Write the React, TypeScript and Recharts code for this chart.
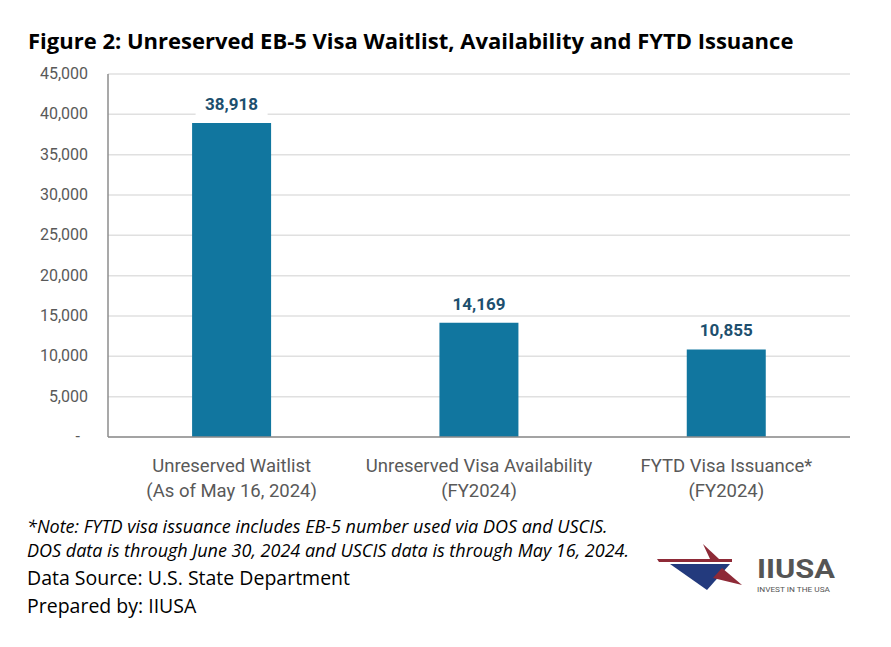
import React from 'react';
import { BarChart, Bar, XAxis, YAxis, CartesianGrid, LabelList } from 'recharts';

const categories = ['Unreserved Waitlist|(As of May 16, 2024)', 'Unreserved Visa Availability|(FY2024)', 'FYTD Visa Issuance*|(FY2024)'];
const values = [38918, 14169, 10855];
const yTicks = [0, 5000, 10000, 15000, 20000, 25000, 30000, 35000, 40000, 45000];

const data = categories.map((c, i) => ({ name: c, value: values[i] }));

const AXIS_FONT = 'Roboto, "Liberation Sans", sans-serif';
const TEXT_FONT = '"Open Sans", "Lato", sans-serif';

const fmt = (v: number) => (v === 0 ? '-' : v.toLocaleString('en-US'));

const YTick = (props: any) => {
  const { x, y, payload } = props;
  const v = payload.value;
  return (
    <text x={v === 0 ? x - 8 : x} y={y} dy={5} textAnchor="end" fill="#595959" fontSize={16} fontFamily={AXIS_FONT}>
      {fmt(v)}
    </text>
  );
};

const XTick = (props: any) => {
  const { x, y, payload } = props;
  const lines = String(payload.value).split('|');
  return (
    <g>
      {lines.map((l, i) => (
        <text key={i} x={x} y={y + 27 + i * 25} textAnchor="middle" fill="#595959" fontSize={18.5} fontFamily={AXIS_FONT}>
          {l}
        </text>
      ))}
    </g>
  );
};

const ValueLabel = (props: any) => {
  const { x, y, width, value } = props;
  const cx = x + width / 2;
  const txt = fmt(value);
  return (
    <g>
      <rect x={cx - 36} y={y - 30} width={72} height={22} fill="#ffffff" />
      <text x={cx} y={y - 13} textAnchor="middle" fill="#1d4f6e" fontSize={17} fontWeight="bold" fontFamily={AXIS_FONT}>
        {txt}
      </text>
    </g>
  );
};

const Logo = () => (
  <svg width={200} height={70} style={{ position: 'absolute', left: 639, top: 527 }}>
    <polygon points="56,9 72,24 63,24" fill="#8e2a37" />
    <polygon points="10,24 85,24 85,27 12,27" fill="#8e2a37" />
    <polygon points="23,29 83,29 60,55" fill="#233a7d" />
    <polygon points="75,33 95,50 66,43" fill="#8e2a37" />
    <text x={110} y={43} fontSize={25} fontWeight="bold" fill="#555555" fontFamily={AXIS_FONT} textLength={78} lengthAdjust="spacingAndGlyphs">IIUSA</text>
    <text x={110} y={57} fontSize={6.5} fill="#555555" fontFamily={AXIS_FONT} textLength={73} lengthAdjust="spacingAndGlyphs">INVEST IN THE USA</text>
  </svg>
);

export default function App() {
  return (
    <div style={{ position: 'relative', width: 875, height: 631, background: '#ffffff' }}>
      <div style={{ position: 'absolute', left: 20, top: 17, fontFamily: TEXT_FONT, fontWeight: 'bold', fontSize: 22, color: '#000', whiteSpace: 'nowrap' }}>
        Figure 2: Unreserved EB-5 Visa Waitlist, Availability and FYTD Issuance
      </div>
      <div style={{ position: 'absolute', left: 0, top: 0 }}>
        <BarChart width={875} height={520} data={data} margin={{ top: 66, right: 33, left: 0, bottom: 31 }} barCategoryGap="34%">
          <CartesianGrid vertical={false} stroke="#e0e0e0" strokeWidth={1.5} />
          <YAxis
            domain={[0, 45000]}
            ticks={yTicks}
            width={100}
            tickLine={false}
            axisLine={{ stroke: '#8c8c8c', strokeWidth: 1.5 }}
            tick={<YTick />}
            tickSize={0}
            tickMargin={20}
            interval={0}
          />
          <XAxis
            dataKey="name"
            height={60}
            tickLine={false}
            axisLine={{ stroke: '#8c8c8c', strokeWidth: 1.5 }}
            tick={<XTick />}
            interval={0}
          />
          <Bar dataKey="value" fill="#11769f" isAnimationActive={false}>
            <LabelList dataKey="value" content={<ValueLabel />} />
          </Bar>
        </BarChart>
      </div>
      <div style={{ position: 'absolute', left: 19, top: 506, fontFamily: TEXT_FONT, fontStyle: 'italic', fontSize: 18, color: '#000', lineHeight: '24px', whiteSpace: 'nowrap' }}>
        <div>*Note: FYTD visa issuance includes EB-5 number used via DOS and USCIS.</div>
        <div>DOS data is through June 30, 2024 and USCIS data is through May 16, 2024.</div>
      </div>
      <div style={{ position: 'absolute', left: 19, top: 556, fontFamily: TEXT_FONT, fontSize: 19.5, color: '#000', lineHeight: '28px', whiteSpace: 'nowrap' }}>
        <div>Data Source: U.S. State Department</div>
        <div>Prepared by: IIUSA</div>
      </div>
      <Logo />
    </div>
  );
}
